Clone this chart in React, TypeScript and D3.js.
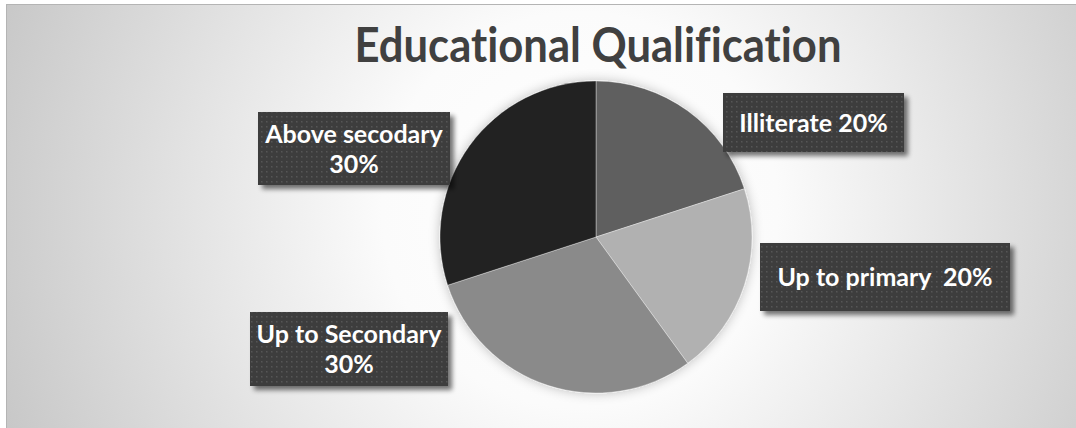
import React from "react";
import * as d3 from "d3";

const categories = ["Illiterate", "Up to primary", "Up to Secondary", "Above secodary"];
const values = [20, 20, 30, 30];
const labelLines = [
  ["Illiterate 20%"],
  ["Up to primary  20%"],
  ["Up to Secondary", "30%"],
  ["Above secodary", "30%"],
];
const title = "Educational Qualification";

const sliceColors = ["#5f5f5f", "#b1b1b1", "#8a8a8a", "#212121"];
// label boxes layout: x, y, w, h
const boxes = [
  { x: 723, y: 93, w: 181, h: 59 },
  { x: 760, y: 243, w: 250, h: 68 },
  { x: 250, y: 312, w: 198, h: 74 },
  { x: 258, y: 112, w: 192, h: 73 },
];

const W = 1076;
const H = 428;
const cx = 596;
const cy = 237;
const R = 156;

export default function App() {
  const pie = d3
    .pie<number>()
    .sort(null)
    .value((d) => d)
    .startAngle(0)
    .endAngle(2 * Math.PI);
  const arcs = pie(values);
  const arcGen = d3.arc<d3.PieArcDatum<number>>().innerRadius(0).outerRadius(R);
  const font = "Lato, 'Open Sans', sans-serif";

  return (
    <svg
      width={W}
      height={H}
      style={{ position: "absolute", left: 0, top: 0, display: "block", fontVariantLigatures: "none" }}
    >
      <defs>
        <radialGradient id="bg" gradientUnits="userSpaceOnUse" cx={580} cy={210} r={660}>
          <stop offset="0" stopColor="#ffffff" />
          <stop offset="0.3" stopColor="#fbfbfb" />
          <stop offset="1" stopColor="#c2c2c2" />
        </radialGradient>
        <pattern id="dots" width={5} height={5} patternUnits="userSpaceOnUse">
          <rect width={5} height={5} fill="#3d3d3d" />
          <rect x={1} y={1} width={1.5} height={1.5} fill="#575757" />
        </pattern>
        <filter id="boxShadow" x="-20%" y="-20%" width="150%" height="160%">
          <feGaussianBlur in="SourceAlpha" stdDeviation="2.5" />
          <feOffset dx="4" dy="4" result="b" />
          <feComponentTransfer>
            <feFuncA type="linear" slope="0.55" />
          </feComponentTransfer>
          <feMerge>
            <feMergeNode />
            <feMergeNode in="SourceGraphic" />
          </feMerge>
        </filter>
        <filter id="pieShadow" x="-20%" y="-20%" width="140%" height="140%">
          <feGaussianBlur in="SourceAlpha" stdDeviation="6" />
          <feOffset dx="0" dy="0" result="b" />
          <feComponentTransfer>
            <feFuncA type="linear" slope="0.25" />
          </feComponentTransfer>
          <feMerge>
            <feMergeNode />
            <feMergeNode in="SourceGraphic" />
          </feMerge>
        </filter>
      </defs>
      <rect x={0} y={0} width={W} height={H} fill="#ffffff" />
      <rect x={6.5} y={4.5} width={W + 10} height={H + 10} fill="url(#bg)" stroke="#b4b4b4" strokeWidth={1} />

      <text
        x={598}
        y={62}
        textAnchor="middle"
        fontFamily={font}
        fontWeight={700}
        fontSize={47}
        fill="#404040"
        textLength={487}
        lengthAdjust="spacingAndGlyphs"
        style={{ fontVariantLigatures: "none" }}
      >
        {title}
      </text>

      <g transform={`translate(${cx},${cy})`} filter="url(#pieShadow)">
        {arcs.map((a, i) => (
          <path key={categories[i]} d={arcGen(a) || ""} fill={sliceColors[i]} stroke="#ffffff" strokeWidth={0.6} strokeOpacity={0.6} />
        ))}
      </g>

      {categories.map((c, i) => {
        const b = boxes[i];
        const lines = labelLines[i];
        const lh = 30;
        const mid = b.y + b.h / 2;
        const startY = mid - ((lines.length - 1) * lh) / 2 + 9;
        return (
          <g key={c}>
            <rect x={b.x} y={b.y} width={b.w} height={b.h} fill="url(#dots)" filter="url(#boxShadow)" />
            {lines.map((ln, j) => (
              <text
                key={j}
                x={b.x + b.w / 2}
                y={startY + j * lh}
                textAnchor="middle"
                fontFamily={font}
                fontWeight={700}
                fontSize={25}
                fill="#ffffff"
                style={{ whiteSpace: "pre", fontVariantLigatures: "none" }}
              >
                {ln}
              </text>
            ))}
          </g>
        );
      })}
    </svg>
  );
}
